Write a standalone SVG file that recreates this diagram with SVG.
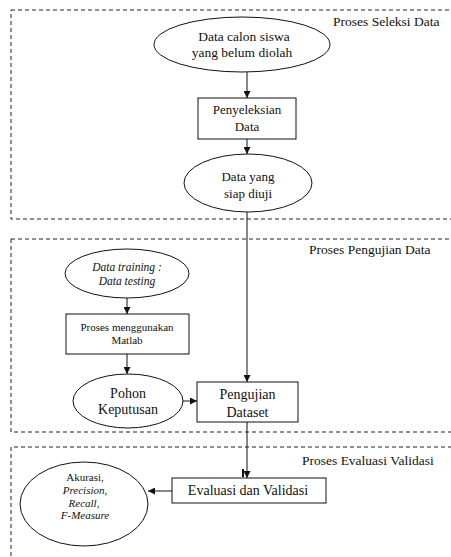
<svg xmlns="http://www.w3.org/2000/svg" width="451" height="557" viewBox="0 0 451 557" font-family="'Liberation Serif', serif">
<defs>
<style>
text{font-family:'Liberation Serif',serif;fill:#111;text-anchor:middle}
.shape{fill:#fff;stroke:#111;stroke-width:1}
.frame{fill:none;stroke:#222;stroke-width:1;stroke-dasharray:4 3}
.conn{stroke:#111;stroke-width:1;fill:none}
.lbl{text-anchor:start;font-size:13.5px}
</style>
<marker id="arr" viewBox="0 0 10 10" refX="10" refY="5" markerWidth="7" markerHeight="7" orient="auto" markerUnits="userSpaceOnUse">
<path d="M0,0 L10,5 L0,10 z" fill="#111"/>
</marker>
</defs>
<rect width="451" height="557" fill="#fff"/>
<g id="frames">
<rect class="frame" x="11" y="10" width="460" height="209"/>
<text class="lbl" x="333" y="26">Proses Seleksi  Data</text>
<rect class="frame" x="11" y="239" width="460" height="193"/>
<text class="lbl" x="309" y="254">Proses Pengujian  Data</text>
<path class="frame" d="M11,570 V447 H471"/>
<text class="lbl" x="302" y="465">Proses Evaluasi  Validasi</text>
</g>
<g id="connectors">
<line class="conn" x1="247" y1="72" x2="247" y2="98" marker-end="url(#arr)"/>
<line class="conn" x1="247" y1="139" x2="247" y2="154" marker-end="url(#arr)"/>
<line class="conn" x1="247" y1="212" x2="247" y2="382" marker-end="url(#arr)"/>
<line class="conn" x1="127" y1="298" x2="127" y2="314" marker-end="url(#arr)"/>
<line class="conn" x1="127" y1="354" x2="127" y2="374" marker-end="url(#arr)"/>
<line class="conn" x1="183" y1="401" x2="197" y2="401" marker-end="url(#arr)"/>
<line class="conn" x1="247" y1="422" x2="247" y2="478" marker-end="url(#arr)"/>
<line x1="243" y1="469" x2="243" y2="477" stroke="#111" stroke-width="2"/>
<line class="conn" x1="172" y1="491" x2="148" y2="491" marker-end="url(#arr)"/>
</g>
<g id="n1">
<ellipse class="shape" cx="242" cy="44.5" rx="88" ry="27.5"/>
<text x="244" y="41" font-size="13.5">Data calon  siswa</text>
<text x="242" y="57" font-size="13.5">yang belum  diolah</text>
</g>
<g id="n2">
<rect class="shape" x="198" y="98" width="98" height="41"/>
<text x="247" y="114" font-size="13">Penyeleksian</text>
<text x="247" y="131" font-size="13">Data</text>
</g>
<g id="n3">
<ellipse class="shape" cx="248" cy="183" rx="64" ry="29"/>
<text x="248" y="181" font-size="13">Data yang</text>
<text x="248" y="198" font-size="13">siap diuji</text>
</g>
<g id="n4">
<ellipse class="shape" cx="127" cy="273.5" rx="62" ry="24.5"/>
<text x="127" y="271" font-size="11.5" font-style="italic">Data training :</text>
<text x="127" y="285" font-size="11.5" font-style="italic">Data testing</text>
</g>
<g id="n5">
<rect class="shape" x="66" y="314" width="123" height="40"/>
<text x="127" y="331" font-size="11">Proses menggunakan</text>
<text x="127" y="344" font-size="11">Matlab</text>
</g>
<g id="n6">
<ellipse class="shape" cx="128" cy="401" rx="55" ry="27"/>
<text x="128" y="398" font-size="14">Pohon</text>
<text x="128" y="414" font-size="14">Keputusan</text>
</g>
<g id="n7">
<rect class="shape" x="197" y="382" width="101" height="40"/>
<text x="247.5" y="399" font-size="14">Pengujian</text>
<text x="247.5" y="417" font-size="14">Dataset</text>
</g>
<g id="n8">
<rect class="shape" x="172" y="478" width="154" height="25"/>
<text x="248" y="495" font-size="14">Evaluasi  dan Validasi</text>
</g>
<g id="n9">
<ellipse class="shape" cx="84" cy="504" rx="64" ry="42"/>
<text x="85" y="481" font-size="11">Akurasi,</text>
<text x="85" y="494" font-size="11" font-style="italic">Precision,</text>
<text x="84" y="507" font-size="11" font-style="italic">Recall,</text>
<text x="85" y="519" font-size="11" font-style="italic">F-Measure</text>
</g>
</svg>
